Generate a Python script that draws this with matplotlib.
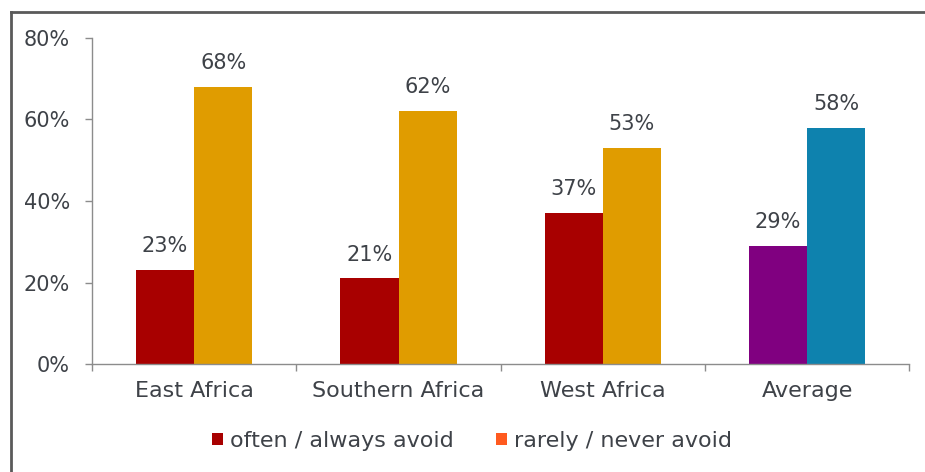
import matplotlib
matplotlib.use("Agg")
import matplotlib.pyplot as plt
from matplotlib.lines import Line2D
from matplotlib.patches import Patch
import numpy as np

regions = ["East Africa", "Southern Africa", "West Africa", "Average"]
often_avoid = [23, 21, 37, 29]
rarely_avoid = [68, 62, 53, 58]
often_colors = ["#A80000", "#A80000", "#A80000", "#800080"]
rarely_colors = ["#E09C00", "#E09C00", "#E09C00", "#0E82AE"]
legend_labels = ["often / always avoid", "rarely / never avoid"]
legend_colors = ["#A80000", "#FF5A1F"]
y_ticks = [0, 20, 40, 60, 80]

TEXT = "#3E4248"
AXIS = "#8C8C8C"
FS_NUM = 15
FS_TXT = 16

plt.rcParams["font.family"] = ["DejaVu Sans"]


def plot_avoidance():
    fig = plt.figure(figsize=(9.25, 4.72), dpi=100)
    ax = fig.add_axes([0.0995, 0.2288, 0.8835, 0.6907])

    x = np.arange(len(regions))
    w = 0.285
    ax.bar(x - w / 2, often_avoid, w, color=often_colors)
    ax.bar(x + w / 2, rarely_avoid, w, color=rarely_colors)

    for xi, v in zip(x - w / 2, often_avoid):
        ax.annotate("%d%%" % v, (xi, v), xytext=(0, 10), textcoords="offset points",
                    ha="center", va="bottom", fontsize=FS_NUM, color=TEXT)
    for xi, v in zip(x + w / 2, rarely_avoid):
        ax.annotate("%d%%" % v, (xi, v), xytext=(0, 10), textcoords="offset points",
                    ha="center", va="bottom", fontsize=FS_NUM, color=TEXT)

    ax.set_xlim(-0.5, len(regions) - 0.5)
    ax.set_ylim(0, 80)
    ax.set_yticks(y_ticks)
    ax.set_yticklabels(["%d%%" % t for t in y_ticks])
    ax.set_xticks(x)
    ax.set_xticklabels(regions)
    ax.set_xticks(np.arange(len(regions) + 1) - 0.5, minor=True)

    ax.tick_params(axis="y", length=5, width=1, color=AXIS, labelsize=FS_NUM,
                   labelcolor=TEXT, pad=11)
    ax.tick_params(axis="x", which="major", length=0, labelsize=FS_TXT,
                   labelcolor=TEXT, pad=12)
    ax.tick_params(axis="x", which="minor", length=5, width=1, color=AXIS)

    for side in ("top", "right"):
        ax.spines[side].set_visible(False)
    for side in ("left", "bottom"):
        ax.spines[side].set_color(AXIS)
        ax.spines[side].set_linewidth(1)

    handles = [Patch(facecolor=c, edgecolor="none") for c in legend_colors]
    fig.legend(handles, legend_labels, loc="center", bbox_to_anchor=(0.51, 0.066),
               ncol=2, frameon=False, fontsize=FS_TXT, handlelength=0.5,
               handleheight=0.5, handletextpad=0.3, columnspacing=1.9,
               labelcolor=TEXT)

    # outer frame, left and top edges only
    fx = 11 / 925
    fy = 1 - 12 / 472
    fig.add_artist(Line2D([fx, fx], [0, fy], transform=fig.transFigure,
                          color="#5A5A5A", lw=2))
    fig.add_artist(Line2D([fx, 1], [fy, fy], transform=fig.transFigure,
                          color="#5A5A5A", lw=2))

    fig.savefig("out.png", dpi=100)


if __name__ == "__main__":
    plot_avoidance()
